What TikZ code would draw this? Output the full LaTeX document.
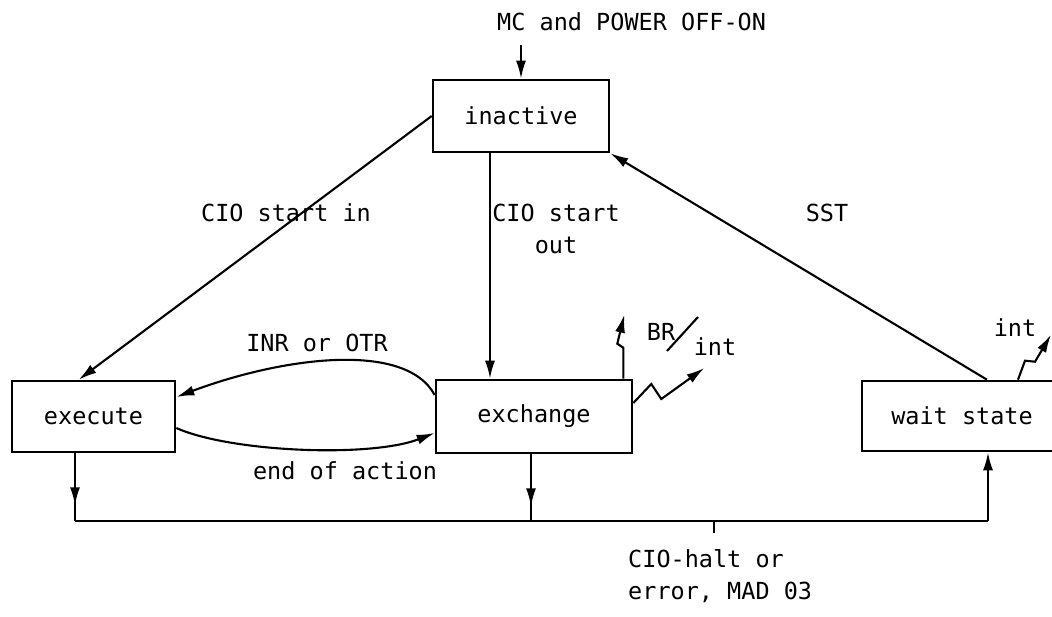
\documentclass[tikz,border=0pt]{standalone}
\usepackage{fontspec}
\setmonofont{DejaVu Sans Mono}
\usetikzlibrary{arrows.meta}
\begin{document}
\begin{tikzpicture}[x=1pt,y=-1pt,
  every node/.style={font=\ttfamily\fontsize{23.5}{32}\selectfont, inner sep=0pt},
  statebox/.style={draw, line width=2.6pt, inner sep=0pt},
  conn/.style={line width=2.1pt},
  bus/.style={line width=2.8pt},
  arr/.style={conn, -{Latex[length=18pt,width=10pt]}}]
\useasboundingbox (0,0) rectangle (1052,616);
\clip (0,0) rectangle (1052,616);

% states
\node[statebox, minimum width=176pt, minimum height=72pt] (inact) at (521,116) {inactive};
\node[statebox, minimum width=163pt, minimum height=71pt] (exe) at (93.5,416.5) {execute};
\node[statebox, minimum width=196pt, minimum height=73pt] (exch) at (534,416.5) {exchange};
\node[statebox, minimum width=200pt, minimum height=70pt] (wait) at (962,416) {wait state};

% power-on entry
\node[anchor=west] (mc) at (497,22) {MC and POWER OFF-ON};
\coordinate (mcend) at (521,45);
\draw[arr] (mcend) -- (inact.north);

% transitions out of inactive
\draw[arr] (inact.west) -- ([xshift=68pt]exe.north west);
\node (csi) at (286,213) {CIO start in};
\draw[arr] ([xshift=-31pt]inact.south) -- ([xshift=-31pt]inact.south |- exch.north);
\node[align=center] (cso) at (556,229) {CIO start\\out};
\draw[arr] ([xshift=25pt]wait.north) -- (inact.south east);
\node (sst) at (827,213) {SST};

% execute <-> exchange
\draw[arr] ([yshift=21.5pt]exch.west) .. controls (405,340) and (280,358) .. ([yshift=19.5pt]exe.east);
\node (inr) at (317,343) {INR or OTR};
\draw[arr] ([yshift=-11.5pt]exe.east) .. controls (230,452) and (370,458) .. ([yshift=-16.5pt]exch.west);
\node (eoa) at (345,471) {end of action};

% interrupt signals
\draw[arr] ([xshift=-10pt]exch.north east) -- ++(0,-31) -- ++(-6,-4) -- ++(7,-29);
\draw[arr] ([yshift=13.5pt]exch.east) -- ++(18,-19) -- ++(10,15) -- ++(43,-31);
\node (br) at (661,332) {BR};
\node (int1) at (715,347) {int};
\draw[conn] (667,351) -- (698,317);
\draw[arr] ([xshift=56pt]wait.north) -- ++(7,-19) -- ++(10,1) -- ++(16,-27);
\node (int2) at (1015,328) {int};

% halt / error bus
\coordinate (busL) at (75,521);
\coordinate (busX) at (531,521);
\coordinate (busR) at (988,521);
\coordinate (tick) at (714,521);
\draw[bus] (busL) -- (busR);
\draw[arr] (exe.south -| busL) -- ++(0,52);
\draw[conn] (exe.south -| busL) -- (busL);
\draw[arr] (exch.south -| busX) -- ++(0,52);
\draw[conn] (exch.south -| busX) -- (busX);
\draw[arr] (busR) -- (wait.south -| busR);
\draw[conn] (tick) -- ++(0,12);
\node[anchor=west, align=left] (halt) at (628,576) {CIO-halt or\\error, MAD 03};
\end{tikzpicture}
\end{document}
